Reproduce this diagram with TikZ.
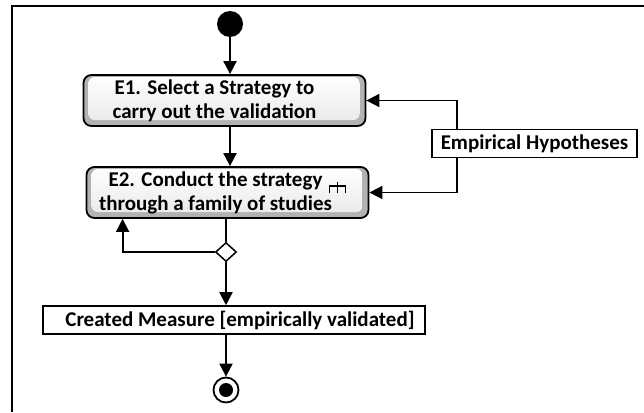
\documentclass[tikz,border=0pt]{standalone}
\usepackage{fontspec}
\setmainfont{Carlito}
\usetikzlibrary{arrows.meta}
\usetikzlibrary{shapes.geometric}

\tikzset{
  act/.style={shape=rectangle,draw=black,line width=1.8pt,rounded corners=8pt,fill=gray!60,
    minimum width=282pt,minimum height=51pt,align=center,inner sep=0pt,
    font=\fontsize{21}{24}\selectfont\bfseries,
    path picture={\shade[top color=white,bottom color=gray!18,rounded corners=6pt]
      ([shift={(5pt,-2pt)}]path picture bounding box.north west) rectangle
      ([shift={(-6pt,6pt)}]path picture bounding box.south east);}},
  obj/.style={shape=rectangle,draw=black,line width=1.6pt,fill=white,inner sep=0pt,
    minimum height=28pt,font=\fontsize{21}{24}\selectfont\bfseries},
  flow/.style={-{Triangle[length=13pt,width=13pt]},line width=1.9pt},
}

\begin{document}
\begin{tikzpicture}[x=1pt,y=-1pt]
    \useasboundingbox (0,0) rectangle (644,412);
    \draw[line width=2.6pt] (12,412) -- (12,6) -- (644,6);

    \node[shape=circle,fill=black,minimum size=26pt,inner sep=0pt] (start) at (230,24) {};
    \node[act] (e1) at (224.5,100.5) {E1. Select a Strategy to\hspace*{20pt}\\carry out the validation\hspace*{20pt}};
    \node[act] (e2) at (227.5,192.5) {E2. Conduct the strategy\hspace*{24pt}\\through a family of studies\hspace*{24pt}};
    \node[shape=diamond,draw=black,fill=white,line width=1.5pt,minimum width=21pt,minimum height=19pt,inner sep=0pt] (dec) at (226,252) {};
    \node[obj,minimum width=382pt] (meas) at (234,320) {\hspace*{12pt}Created Measure [empirically validated]};
    \node[obj,minimum width=205pt] (hyp) at (534.5,143.5) {Empirical Hypotheses};
    \node[shape=circle,draw=black,line width=1.8pt,minimum size=25pt,inner sep=0pt] (final) at (226,390) {};
    \fill (final) circle (7pt);

    % rake on E2
    \draw[line width=1.5pt] ([shift={(-40pt,-0.5pt)}]e2.east) -- ++(0pt,7pt) -- ++(16pt,0pt) -- ++(0pt,-7pt);
    \draw[line width=1.5pt] ([shift={(-32pt,-0.5pt)}]e2.east) -- ++(0pt,11pt);

    \path [flow] (start) edge (start |- e1.north);
    \path [flow] (e1.south -| start) edge (e2.north -| start);
    \draw [line width=1.9pt] (e2.south -| dec) -- (dec.north);
    \draw [flow] (dec.west) -| ([xshift=37pt]e2.south west);
    \path [flow] (dec.south) edge (meas.north -| dec);
    \path [flow] (meas.south -| dec) edge (final);
    \draw [flow] ([xshift=26pt]hyp.north west) |- (e1.east);
    \draw [flow] ([xshift=26pt]hyp.south west) |- (e2.east);
\end{tikzpicture}
\end{document}
